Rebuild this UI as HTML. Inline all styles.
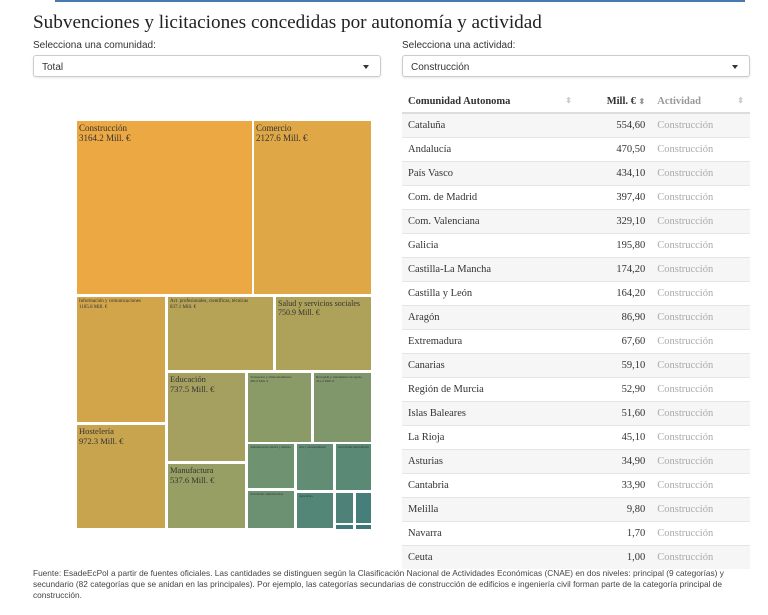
<!DOCTYPE html>
<html><head><meta charset="utf-8"><style>
*{margin:0;padding:0;box-sizing:border-box}
body{width:768px;height:615px;background:#fff;position:relative;overflow:hidden;font-family:"Liberation Sans",sans-serif;color:#333}
.a{position:absolute}
.bar{left:55px;top:0;width:690px;height:2px;background:#4a78b0}
h1{position:absolute;left:33px;top:12px;font-family:"Liberation Serif",serif;font-weight:normal;font-size:19.2px;color:#222;letter-spacing:0px}
.lbl{font-size:10px;color:#333}
.sel{height:22px;border:1px solid #ccc;border-radius:3px;box-shadow:0 1px 2px rgba(0,0,0,.1);font-size:10px;padding:6px 8px;color:#333}
.sel:after{content:"";position:absolute;right:11px;top:9px;border-left:3.5px solid transparent;border-right:3.5px solid transparent;border-top:4px solid #333}
.r{position:absolute;font-family:"Liberation Serif",serif;color:#333;overflow:hidden;padding:2px 2px;line-height:1.15}
table{position:absolute;left:402px;top:90px;width:348px;border-collapse:collapse;font-family:"Liberation Serif",serif;font-size:10.5px}
th{height:23px;text-align:left;padding:0 6px;border-bottom:2px solid #ddd;font-weight:bold;color:#333}
td{height:24px;padding:1px 6px 0;border-top:1px solid #e5e5e5}
tr:nth-child(even) td{background:#f6f6f6}
td.n{text-align:right}
td.g{color:#aaa}
.foot{left:33px;top:568px;width:715px;font-size:8.3px;line-height:11px;color:#444}
</style></head><body>
<div class="a bar"></div>
<h1>Subvenciones y licitaciones concedidas por autonomía y actividad</h1>
<div class="a lbl" style="left:33px;top:40px">Selecciona una comunidad:</div>
<div class="a lbl" style="left:402px;top:40px">Selecciona una actividad:</div>
<div class="a sel" style="left:33px;top:55px;width:348px">Total</div>
<div class="a sel" style="left:402px;top:55px;width:348px">Construcción</div>

<div class="r" style="left:77px;top:121px;width:175px;height:173px;background:#eca842;font-size:9px">Construcción<br>3164.2 Mill. €</div>
<div class="r" style="left:254px;top:121px;width:117px;height:173px;background:#dfa746;font-size:9px">Comercio<br>2127.6 Mill. €</div>
<div class="r" style="left:77px;top:297px;width:88px;height:125px;background:#d3a54b;font-size:5px">Información y comunicaciones<br>1185.8 Mill. €</div>
<div class="r" style="left:168px;top:297px;width:105px;height:73px;background:#b7a356;font-size:5px">Act. profesionales, científicas, técnicas<br>837.1 Mill. €</div>
<div class="r" style="left:276px;top:297px;width:95px;height:73px;background:#aea25a;font-size:8px">Salud y servicios sociales<br>750.9 Mill. €</div>
<div class="r" style="left:77px;top:425px;width:88px;height:103px;background:#c8a44f;font-size:8.5px">Hostelería<br>972.3 Mill. €</div>
<div class="r" style="left:168px;top:373px;width:77px;height:88px;background:#a5a05f;font-size:8.5px">Educación<br>737.5 Mill. €</div>
<div class="r" style="left:168px;top:464px;width:77px;height:64px;background:#989f64;font-size:8.5px">Manufactura<br>537.6 Mill. €</div>
<div class="r" style="left:248px;top:373px;width:63px;height:69px;background:#8a9b68;font-size:3.5px">Transporte y almacenamiento<br>483.9 Mill. €</div>
<div class="r" style="left:314px;top:373px;width:57px;height:69px;background:#80966b;font-size:3.5px">Recogida y tratamiento de aguas<br>451.2 Mill. €</div>
<div class="r" style="left:248px;top:444px;width:46px;height:44px;background:#6f9270;font-size:3px">Administración pública y defensa</div>
<div class="r" style="left:297px;top:444px;width:36px;height:46px;background:#628c74;font-size:3px">Arte y entretenimiento</div>
<div class="r" style="left:336px;top:444px;width:35px;height:46px;background:#5a8976;font-size:3px">Actividades inmobiliarias</div>
<div class="r" style="left:248px;top:491px;width:46px;height:37px;background:#6b9172;font-size:3px">Actividades administrativas</div>
<div class="r" style="left:297px;top:493px;width:36px;height:35px;background:#548677;font-size:3px">Agricultura</div>
<div class="r" style="left:336px;top:493px;width:17px;height:30px;background:#4e8278"></div>
<div class="r" style="left:356px;top:493px;width:15px;height:30px;background:#457e7a"></div>
<div class="r" style="left:336px;top:525px;width:17px;height:3px;background:#3f7a7a"></div>
<div class="r" style="left:356px;top:525px;width:15px;height:3px;background:#3a767a"></div>

<table>
<tr><th>Comunidad Autonoma <span style="float:right;color:#ccc;font-size:8px">⬍</span></th><th style="text-align:right">Mill. € <span style="color:#999;font-size:8px">⬍</span></th><th style="color:#999">Actividad <span style="float:right;color:#ccc;font-size:8px">⬍</span></th></tr>
<tr><td>Cataluña</td><td class="n">554,60</td><td class="g">Construcción</td></tr>
<tr><td>Andalucía</td><td class="n">470,50</td><td class="g">Construcción</td></tr>
<tr><td>País Vasco</td><td class="n">434,10</td><td class="g">Construcción</td></tr>
<tr><td>Com. de Madrid</td><td class="n">397,40</td><td class="g">Construcción</td></tr>
<tr><td>Com. Valenciana</td><td class="n">329,10</td><td class="g">Construcción</td></tr>
<tr><td>Galicia</td><td class="n">195,80</td><td class="g">Construcción</td></tr>
<tr><td>Castilla-La Mancha</td><td class="n">174,20</td><td class="g">Construcción</td></tr>
<tr><td>Castilla y León</td><td class="n">164,20</td><td class="g">Construcción</td></tr>
<tr><td>Aragón</td><td class="n">86,90</td><td class="g">Construcción</td></tr>
<tr><td>Extremadura</td><td class="n">67,60</td><td class="g">Construcción</td></tr>
<tr><td>Canarias</td><td class="n">59,10</td><td class="g">Construcción</td></tr>
<tr><td>Región de Murcia</td><td class="n">52,90</td><td class="g">Construcción</td></tr>
<tr><td>Islas Baleares</td><td class="n">51,60</td><td class="g">Construcción</td></tr>
<tr><td>La Rioja</td><td class="n">45,10</td><td class="g">Construcción</td></tr>
<tr><td>Asturias</td><td class="n">34,90</td><td class="g">Construcción</td></tr>
<tr><td>Cantabria</td><td class="n">33,90</td><td class="g">Construcción</td></tr>
<tr><td>Melilla</td><td class="n">9,80</td><td class="g">Construcción</td></tr>
<tr><td>Navarra</td><td class="n">1,70</td><td class="g">Construcción</td></tr>
<tr><td>Ceuta</td><td class="n">1,00</td><td class="g">Construcción</td></tr>
</table>

<div class="a foot">Fuente: EsadeEcPol a partir de fuentes oficiales. Las cantidades se distinguen según la Clasificación Nacional de Actividades Económicas (CNAE) en dos niveles: principal (9 categorías) y secundario (82 categorías que se anidan en las principales). Por ejemplo, las categorías secundarias de construcción de edificios e ingeniería civil forman parte de la categoría principal de construcción.</div>
</body></html>
